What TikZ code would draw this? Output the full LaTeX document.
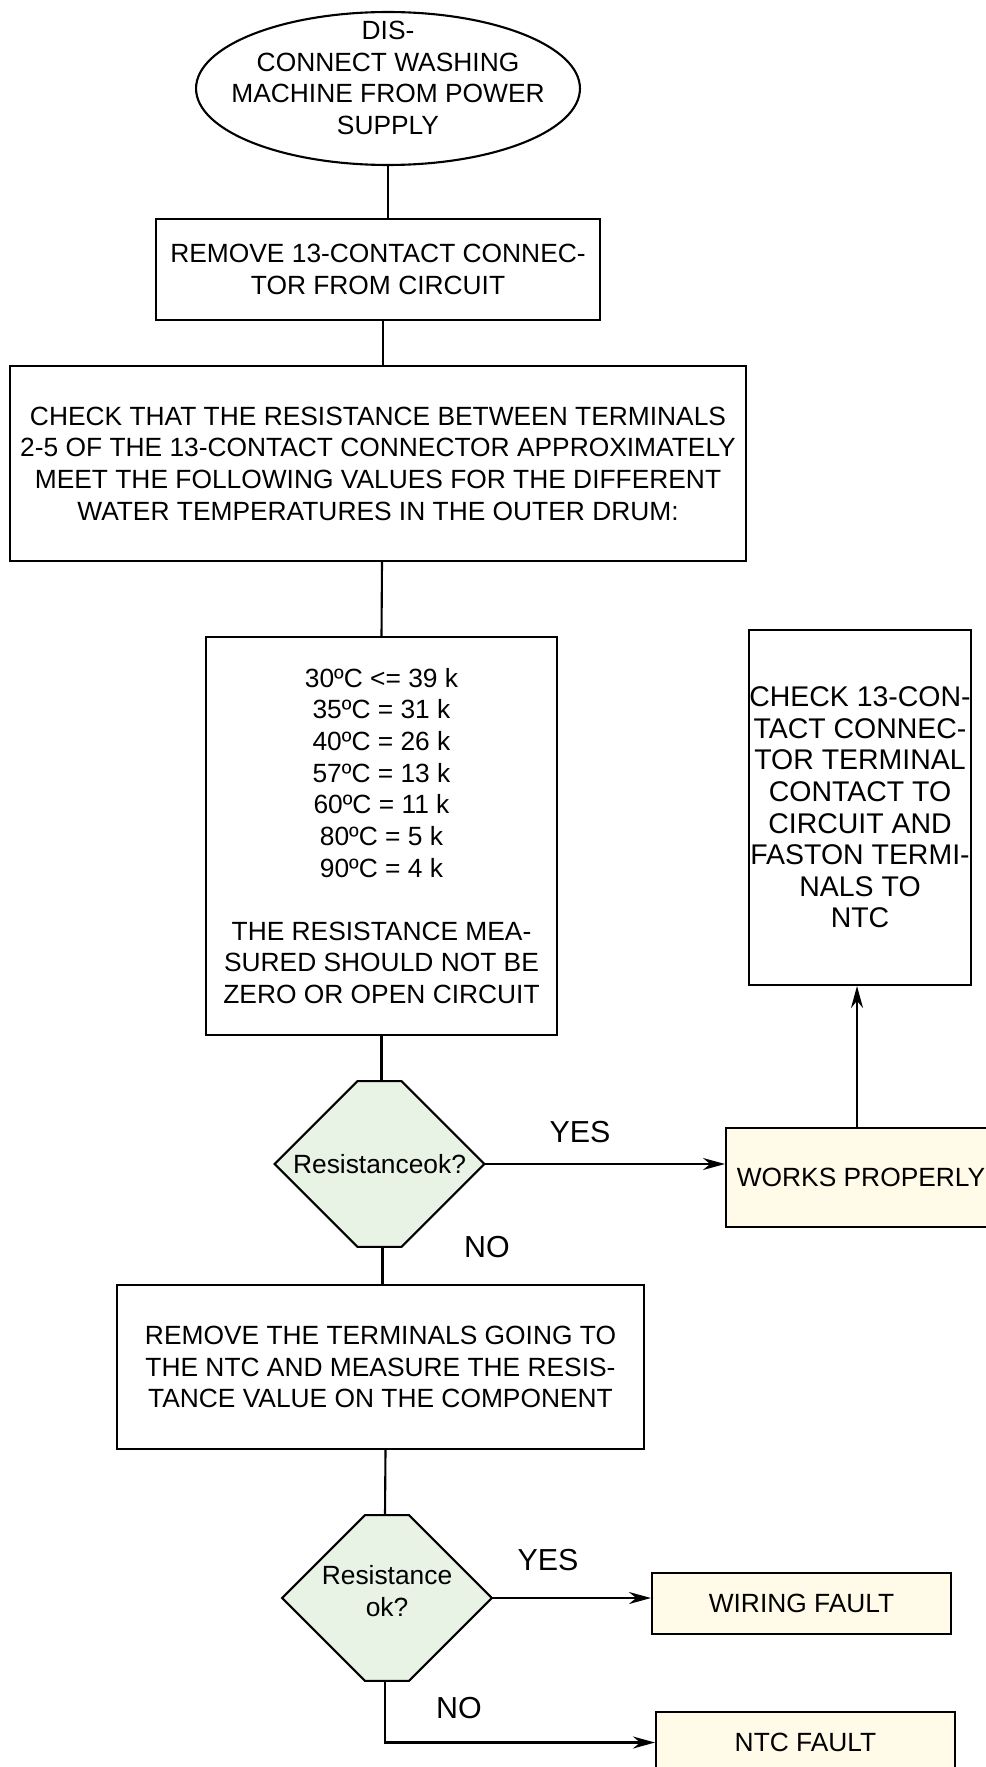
\documentclass[tikz,border=0pt]{standalone}
\usepackage{fontspec}
\setmainfont{Liberation Sans}
\usetikzlibrary{arrows.meta,shapes.geometric,backgrounds,calc}

\definecolor{decfill}{HTML}{E8F3E6}
\definecolor{endfill}{HTML}{FFFBE8}

\begin{document}
\begin{tikzpicture}[x=0.02cm, y=-0.02cm, >={Stealth[length=0.44cm, width=0.24cm]},
  txt/.style={font=\fontsize{15}{18}\selectfont},
  stepbox/.style={txt, draw, line width=1.2pt, align=center, inner sep=0pt},
  endbox/.style={stepbox, fill=endfill},
  decision/.style={txt, align=center, inner sep=0pt, minimum width=4.18cm, minimum height=3.3cm},
  hexline/.style={draw, fill=decfill, line width=1.2pt},
  conn/.style={line width=1.2pt},
  lbl/.style={font=\fontsize{17.3}{20}\selectfont}]
  \useasboundingbox (0,0) rectangle (986,1767);
  %% start oval
  \node[txt, draw, ellipse, line width=1.2pt, inner sep=0pt,
        minimum width=7.68cm, minimum height=3.06cm] (start) at (388,88.5)
    {\raisebox{0.03cm}[0pt][0pt]{\makebox[0pt]{\begin{tabular}{@{}c@{}}DIS-\\CONNECT WASHING\\MACHINE FROM POWER\\SUPPLY\end{tabular}}}};
  %% main column
  \node[stepbox, minimum width=8.88cm, minimum height=2.02cm] (rem13) at (378,269.5)
    {REMOVE 13-CONTACT CONNEC-\\TOR FROM CIRCUIT};
  \node[stepbox, minimum width=14.72cm, minimum height=3.9cm] (chkres) at (378,463.5)
    {CHECK THAT THE RESISTANCE BETWEEN TERMINALS\\2-5 OF THE 13-CONTACT CONNECTOR APPROXIMATELY\\MEET THE FOLLOWING VALUES FOR THE DIFFERENT\\WATER TEMPERATURES IN THE OUTER DRUM:};
  \node[stepbox, minimum width=7.02cm, minimum height=7.96cm] (values) at (381.5,836)
    {30ºC <= 39 k\\35ºC = 31 k\\40ºC = 26 k\\57ºC = 13 k\\60ºC = 11 k\\80ºC = 5 k\\90ºC = 4 k\\[18pt]
     THE RESISTANCE MEA-\\SURED SHOULD NOT BE\\ZERO OR OPEN CIRCUIT};
  \node[decision] (dec1) at (379.5,1164) {Resistanceok?};
  \node[stepbox, minimum width=10.54cm, minimum height=3.28cm] (remntc) at (380.5,1367)
    {REMOVE THE TERMINALS GOING TO\\THE NTC AND MEASURE THE RESIS-\\TANCE VALUE ON THE COMPONENT};
  \node[decision] (dec2) at (387,1598) {Resistance\\ok?\rule[-0.28cm]{0pt}{0pt}};
  %% right column
  \node[stepbox, font=\fontsize{16.2}{18}\selectfont, minimum width=4.36cm, minimum height=7.1cm] (chkcon) at (860,807.5)
    {CHECK 13-CON-\\TACT CONNEC-\\TOR TERMINAL\\CONTACT TO\\CIRCUIT AND\\FASTON TERMI-\\NALS TO\\NTC};
  \node[endbox, minimum width=5.4cm, minimum height=1.98cm] (works) at (861,1177.5) {WORKS PROPERLY};
  \node[endbox, minimum width=5.98cm, minimum height=1.22cm] (wiring) at (801.5,1603.5) {WIRING FAULT};
  \node[endbox, minimum width=5.98cm, minimum height=1.22cm] (ntc) at (805.5,1742.5) {NTC FAULT};
  %% decision shapes
  \begin{scope}[on background layer]
    \foreach \d in {dec1,dec2}
      \path[hexline] (\d.west) -- ($(\d.north)+(-22,0)$) -- ($(\d.north)+(22,0)$)
        -- (\d.east) -- ($(\d.south)+(22,0)$) -- ($(\d.south)+(-22,0)$) -- cycle;
  \end{scope}
  %% labels
  \node[lbl] (yes1) at (580,1132) {YES};
  \node[lbl] (no1) at (487,1247) {NO};
  \node[lbl] (yes2) at (548,1560) {YES};
  \node[lbl] (no2) at (459,1708) {NO};
  %% connectors
  \draw[conn] (start.south) -- (start.south |- rem13.north);
  \draw[conn] ($(rem13.south)+(5,0)$) -- ($(chkres.north)+(5,0)$);
  \draw[conn] ($(chkres.south)+(4,0)$) -- (values.north);
  \draw[conn] (values.south) -- (values.south |- dec1.north);
  \draw[conn] ($(dec1.south)+(3,0)$) -- ($(remntc.north)+(2,0)$);
  \draw[conn] ($(remntc.south)+(5,0)$) -- ($(dec2.north)+(-2,0)$);
  \draw[conn, ->] (dec1.east) -- (dec1.east -| works.west);
  \draw[conn, ->] ($(chkcon.south |- works.north)+(-3,0)$) -- ($(chkcon.south)+(-3,0)$);
  \draw[conn, ->] (dec2.east) -- (dec2.east -| wiring.west);
  \draw[conn, ->] ($(dec2.south)+(-2,0)$) |- (ntc.west);
\end{tikzpicture}
\end{document}
